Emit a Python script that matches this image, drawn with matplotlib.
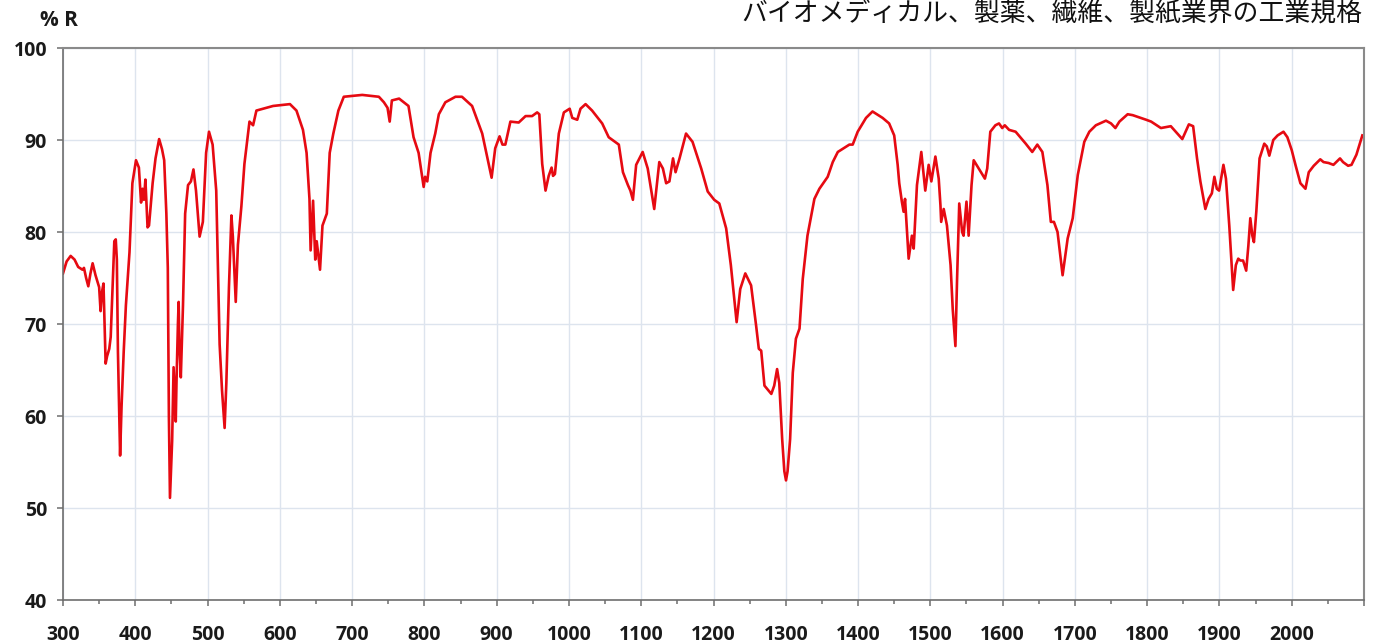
import matplotlib
matplotlib.use("Agg")
import matplotlib.pyplot as plt
import numpy as np

# spectrum
wavenumber = [
    300, 305, 310.6, 316, 321, 327, 329, 332, 335, 338, 341, 345, 350, 352, 354, 356,
    359, 361, 364, 366, 369, 371, 373, 374.5, 376, 379, 381, 384, 387, 392, 396, 401,
    405, 408, 410, 412, 414, 417, 419, 424, 428, 433, 437, 440, 443, 445, 446.5, 448,
    451, 453, 456, 457, 459, 460, 461, 463, 466, 469, 473, 477, 480.5, 484, 489, 493.5,
    498, 502, 507, 512, 516.7, 520, 523.6, 526, 529.6, 533, 535, 539, 542, 546.8, 551,
    558, 563, 567.6, 590.7, 614, 623, 632, 637, 641, 642.6, 646, 649, 651, 655.6, 659,
    665, 669, 674, 681,
    688.5, 714, 737, 744, 749, 752, 755, 765, 778, 785, 792, 799, 801, 804, 808.5, 815,
    820, 829, 843, 852, 866, 880, 889, 893, 898, 904, 908, 912, 919, 930.5, 940, 949,
    956, 959, 963, 967.6, 972, 976, 978, 980.6, 986, 993, 1001, 1004.6, 1011.5, 1016,
    1023, 1032, 1046, 1055, 1062, 1069,
    1074.7, 1081.6, 1085, 1088.5, 1093, 1102, 1109, 1118, 1125, 1130, 1134.5, 1139,
    1144, 1147.5, 1153, 1162, 1171, 1183, 1192, 1201, 1208, 1217.5, 1224, 1232, 1237,
    1244, 1252, 1259, 1262.7, 1266, 1270.5, 1280, 1284, 1288, 1291, 1295, 1298, 1300.3,
    1302.5, 1306, 1309.7, 1314, 1319, 1323.5, 1330, 1339.6, 1346.5, 1358, 1365, 1372,
    1388, 1392.6, 1399.5, 1411, 1420, 1434, 1443, 1450, 1454.8,
    1457, 1460.6, 1463, 1465, 1470, 1474.5, 1477, 1481.5, 1487.5, 1493, 1497.7, 1501.4,
    1507, 1511.6, 1514, 1515, 1518.5, 1523, 1528, 1531, 1534.7, 1537, 1540, 1544, 1546,
    1550, 1553, 1557, 1560, 1567, 1575.5, 1578.7, 1583, 1590, 1595, 1599.5, 1603, 1609,
    1618, 1632, 1641, 1648, 1655, 1662, 1666.7, 1671, 1676, 1683, 1690, 1697, 1704,
    1713, 1720, 1729, 1743, 1750, 1756, 1761.6, 1773, 1780, 1798.6,
    1805.5, 1819, 1832.7, 1839.5, 1848.6, 1857.7, 1863.6, 1869, 1873.6, 1880.5, 1885,
    1889.5, 1893, 1896.4, 1899.5, 1905.5, 1909, 1913.6, 1917, 1919, 1922.7, 1926, 1929,
    1932.7, 1937, 1940, 1942.7, 1945.5, 1947.7, 1951, 1955.5, 1962, 1965.5, 1969,
    1974.5, 1980.5, 1988.6, 1994, 2000, 2005.5, 2012, 2019, 2023.6, 2030.5, 2039.5,
    2044, 2051, 2057.7, 2066.8, 2071, 2078, 2082.7, 2089.5, 2097.7,
]
reflectance = [
    75.5, 76.8, 77.4, 77.0, 76.2, 75.9, 76.1, 75.0, 74.1, 75.5, 76.6, 75.3, 74.0, 71.4, 73.5, 74.4,
    65.7, 66.5, 67.3, 68.6, 75.0, 79.0, 79.2, 77.0, 67.0, 55.7, 61.0, 67.0, 72.0, 77.8, 85.3, 87.8,
    87.0, 83.2, 84.7, 83.5, 85.7, 80.5, 80.7, 85.3, 88.0, 90.1, 89.0, 87.8, 82.0, 76.1, 60.0, 51.1,
    57.3, 65.3, 59.4, 63.6, 70.0, 72.4, 67.8, 64.2, 72.0, 82.0, 85.1, 85.5, 86.8, 84.5, 79.5, 81.1,
    88.6, 90.9, 89.5, 84.5, 67.8, 62.8, 58.7, 63.6, 74.0, 81.8, 79.5, 72.4, 78.6, 82.8, 87.4,
    92.0, 91.6, 93.2, 93.7, 93.9, 93.2, 91.1, 88.6, 83.6, 78.0, 83.4, 77.0, 79.0, 75.9, 80.7,
    82.0, 88.6, 90.7, 93.2,
    94.7, 94.9, 94.7, 94.1, 93.5, 92.0, 94.3, 94.5, 93.7, 90.3, 88.6, 84.9, 86.0, 85.5, 88.6, 90.7,
    92.8, 94.1, 94.7, 94.7, 93.7, 90.7, 87.4, 85.9, 89.1, 90.4, 89.5, 89.5, 92.0, 91.9, 92.6, 92.6,
    93.0, 92.8, 87.4, 84.5, 86.1, 87.0, 86.1, 86.3, 90.7, 93.0, 93.4, 92.4, 92.2, 93.4,
    93.9, 93.2, 91.8, 90.3, 89.9, 89.5,
    86.5, 85.1, 84.5, 83.5, 87.3, 88.7, 86.9, 82.5, 87.6, 86.9, 85.3, 85.5,
    88.0, 86.5, 88.0, 90.7, 89.8, 86.9, 84.4, 83.5, 83.1, 80.4, 76.4, 70.2, 73.8,
    75.5, 74.2, 69.8, 67.3, 67.1, 63.3, 62.4, 63.3, 65.1, 63.6, 57.5, 54.0, 53.0,
    54.0, 57.5, 64.7, 68.4, 69.5, 74.9, 79.6, 83.6, 84.7, 86.0, 87.6, 88.7,
    89.5, 89.5, 90.9, 92.4, 93.1, 92.4, 91.8, 90.5, 87.3,
    85.3, 83.3, 82.2, 83.6, 77.1, 79.6, 78.2, 85.1, 88.7, 84.5, 87.3, 85.5,
    88.2, 85.8, 82.9, 81.1, 82.5, 80.7, 76.4, 71.6, 67.6, 74.9, 83.1, 80.0, 79.6,
    83.3, 79.6, 85.1, 87.8, 86.9, 85.8, 86.9, 90.9, 91.6, 91.8, 91.3, 91.6, 91.1,
    90.9, 89.6, 88.7, 89.5, 88.7, 85.1, 81.1, 81.1, 80.0, 75.3, 79.3, 81.5, 86.2,
    89.8, 90.9, 91.6, 92.1, 91.8, 91.3, 92.0, 92.8, 92.7, 92.2,
    92.0, 91.3, 91.5, 90.9, 90.1, 91.7, 91.5, 88.0, 85.5, 82.5, 83.6,
    84.2, 86.0, 84.7, 84.5, 87.3, 85.8, 80.7, 76.4, 73.7, 76.4, 77.1, 76.9,
    76.9, 75.8, 78.5, 81.5, 79.6, 78.9, 82.2, 88.0, 89.6, 89.3, 88.3,
    90.0, 90.5, 90.9, 90.3, 88.9, 87.2, 85.3, 84.7, 86.5, 87.2, 87.9,
    87.6, 87.5, 87.3, 88.0, 87.6, 87.2, 87.3, 88.4, 90.5,
]

x_ticks = list(range(300, 2101, 100))
x_labels = [str(t) if t <= 2000 else "" for t in x_ticks]
y_ticks = list(range(40, 101, 10))

title = "バイオメディカル、製薬、繊維、製紙業界の工業規格"

W, H = 1376, 643
fig = plt.figure(figsize=(W / 100, H / 100), dpi=100)
ax = fig.add_axes([63 / W, 1 - 600 / H, (1364 - 63) / W, (600 - 48) / H])

ax.plot(wavenumber, reflectance, color="#e60a12", lw=1.9, solid_joinstyle="round")

ax.set_xlim(300, 2100)
ax.set_ylim(40, 100)
ax.set_xticks(x_ticks)
ax.set_xticklabels(x_labels)
ax.set_xticks(np.arange(350, 2100, 100), minor=True)
ax.set_yticks(y_ticks)

ax.grid(True, which="major", color="#dde4ee", lw=1.0)
ax.set_axisbelow(True)

for side in ["left", "bottom"]:
    ax.spines[side].set_color("#6e6e6e")
    ax.spines[side].set_linewidth(1.2)
for side in ["top", "right"]:
    ax.spines[side].set_color("#8a8a8a")
    ax.spines[side].set_linewidth(1.5)

tick_font = ["Open Sans", "DejaVu Sans"]
ax.tick_params(axis="both", which="major", direction="out", length=4.5, width=1.1,
               color="#6e6e6e", labelsize=14, labelcolor="#1a1a1a")
ax.tick_params(axis="x", which="major", pad=13.5)
ax.tick_params(axis="y", which="major", pad=7)
ax.tick_params(axis="x", which="minor", direction="out", length=3, width=1.1, color="#6e6e6e")
for lab in ax.get_xticklabels() + ax.get_yticklabels():
    lab.set_family(tick_font)
    lab.set_fontweight("bold")

fig.text(59 / W, 1 - 21 / H, "% R", ha="center", va="center", fontsize=15,
         fontweight="bold", color="#1a1a1a", family=tick_font)
fig.text(1362 / W, 1 - 13 / H, title, ha="right", va="center", fontsize=18.6,
         color="#111111", family=["Noto Sans CJK JP", "DejaVu Sans"])

fig.savefig("out.png", dpi=100)
